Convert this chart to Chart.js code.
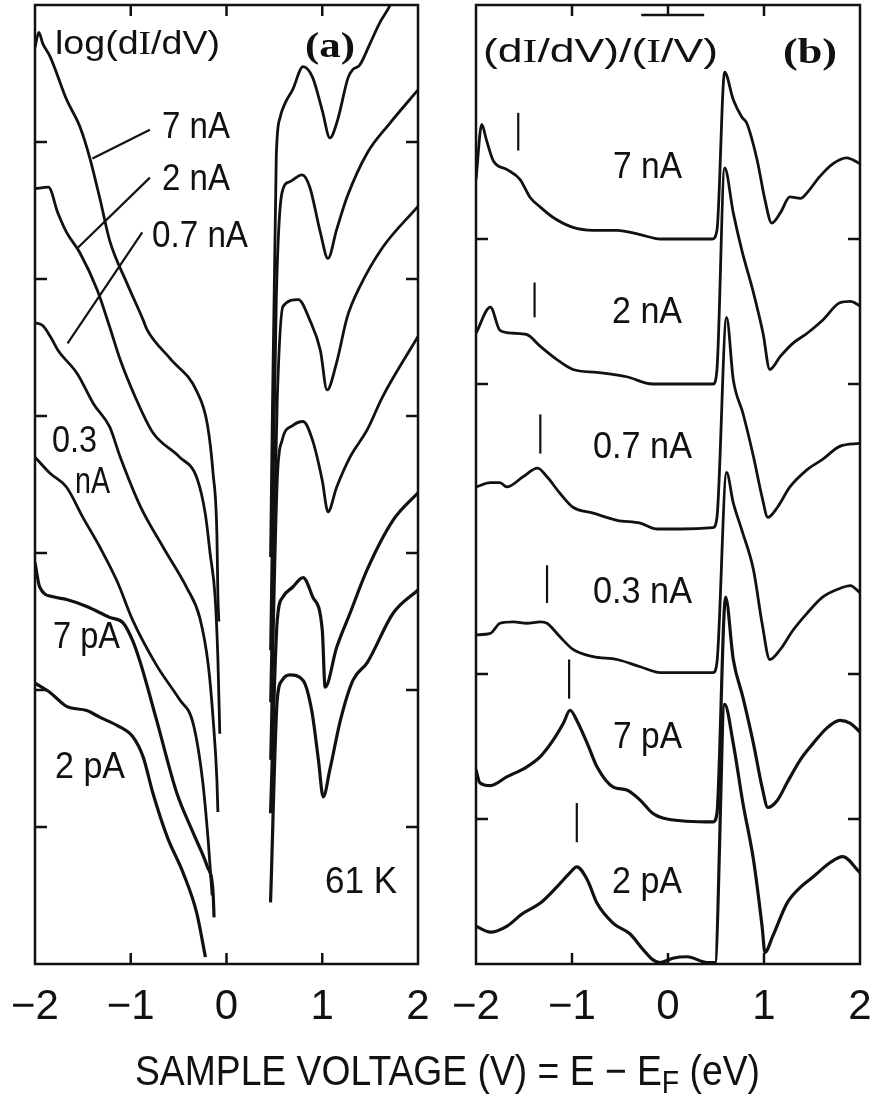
<!DOCTYPE html>
<html>
<head>
<meta charset="utf-8">
<script src="https://cdn.jsdelivr.net/npm/chart.js@4.4.1/dist/chart.umd.min.js"></script>
<style>
  html, body { margin: 0; padding: 0; background: #fff; }
  #wrap { position: relative; width: 874px; height: 1099px; }
  canvas { position: absolute; top: 0; }
  #chartA { left: 0; }
  #chartB { left: 440px; }
</style>
</head>
<body>
<div id="wrap">
  <canvas id="chartA" width="874" height="1099"></canvas>
  <canvas id="chartB" width="434" height="1099"></canvas>
</div>
<script>
// x axis: sample voltage (V)
const voltTicks = [-2, -1, 0, 1, 2];
const innerXTicks = [-1, 0, 1];
const currents = ['7 nA', '2 nA', '0.7 nA', '0.3 nA', '7 pA', '2 pA'];

// panel (a): log(dI/dV), [V, value], each curve split at the gap around 0 V
const a7nA_neg = [[-2.00,6.69],[-1.96,6.80],[-1.92,6.72],[-1.84,6.62],[-1.67,6.31],[-1.53,6.11],[-1.43,5.89],[-1.32,5.58],[-1.22,5.28],[-1.04,4.97],[-0.87,4.70],[-0.83,4.63],[-0.59,4.42],[-0.31,4.18],[-0.20,3.94],[-0.14,3.58],[-0.10,3.13],[-0.09,2.69],[-0.08,2.50]];
const a7nA_pos = [[0.46,2.97],[0.52,5.90],[0.56,6.18],[0.61,6.28],[0.69,6.38],[0.80,6.55],[0.90,6.47],[1.00,6.23],[1.08,6.03],[1.16,6.16],[1.27,6.47],[1.32,6.53],[1.39,6.56],[1.50,6.72],[1.60,6.87],[1.71,7.00],[1.85,7.25]];
const a2nA_neg = [[-2.00,5.66],[-1.86,5.67],[-1.76,5.48],[-1.67,5.34],[-1.53,5.19],[-1.35,4.92],[-1.22,4.65],[-1.11,4.41],[-0.96,4.15],[-0.77,3.88],[-0.49,3.70],[-0.31,3.55],[-0.22,3.28],[-0.17,2.99],[-0.12,2.69],[-0.09,2.23],[-0.07,1.68]];
const a2nA_pos = [[0.46,2.29],[0.52,4.85],[0.58,5.63],[0.66,5.71],[0.79,5.76],[0.87,5.67],[0.98,5.34],[1.06,5.15],[1.15,5.36],[1.26,5.60],[1.47,5.92],[1.71,6.14],[2.00,6.38]];
const a07nA_neg = [[-2.00,4.68],[-1.92,4.66],[-1.84,4.58],[-1.76,4.48],[-1.56,4.31],[-1.39,4.09],[-1.22,3.92],[-1.11,3.70],[-0.90,3.34],[-0.66,3.04],[-0.41,2.74],[-0.28,2.53],[-0.19,2.18],[-0.14,1.79],[-0.10,1.34],[-0.09,1.11]];
const a07nA_pos = [[0.46,1.91],[0.53,4.12],[0.59,4.80],[0.75,4.85],[0.87,4.70],[0.98,4.48],[1.05,4.19],[1.15,4.39],[1.26,4.72],[1.39,4.94],[1.63,5.23],[2.00,5.53]];
const a03nA_neg = [[-2.00,3.70],[-1.84,3.58],[-1.67,3.48],[-1.50,3.26],[-1.32,3.04],[-1.14,2.79],[-0.98,2.51],[-0.73,2.18],[-0.49,1.93],[-0.35,1.76],[-0.25,1.34],[-0.19,0.89],[-0.15,0.50]];
const a03nA_pos = [[0.46,1.49],[0.53,3.53],[0.58,3.82],[0.69,3.93],[0.80,3.96],[0.90,3.82],[1.00,3.53],[1.06,3.30],[1.15,3.48],[1.29,3.70],[1.47,3.90],[1.63,4.14],[2.00,4.58]];
const a7pA_neg = [[-2.00,2.93],[-1.95,2.75],[-1.81,2.68],[-1.67,2.66],[-1.46,2.61],[-1.22,2.53],[-1.08,2.49],[-0.98,2.36],[-0.90,2.20],[-0.73,1.78],[-0.52,1.25],[-0.35,0.96],[-0.20,0.71],[-0.14,0.52],[-0.13,0.34]];
const a7pA_pos = [[0.46,1.10],[0.53,2.51],[0.59,2.68],[0.69,2.75],[0.80,2.82],[0.90,2.68],[1.00,2.44],[1.03,2.02],[1.15,2.31],[1.29,2.56],[1.47,2.88],[1.74,3.24],[2.00,3.44]];
const a2pA_neg = [[-2.00,2.05],[-1.84,1.98],[-1.67,1.88],[-1.46,1.85],[-1.32,1.80],[-1.14,1.74],[-0.98,1.66],[-0.87,1.51],[-0.77,1.25],[-0.62,0.93],[-0.45,0.66],[-0.31,0.37],[-0.22,0.05]];
const a2pA_pos = [[0.46,0.45],[0.53,1.93],[0.58,2.07],[0.66,2.11],[0.80,2.07],[0.89,1.85],[0.96,1.49],[1.01,1.22],[1.08,1.42],[1.19,1.78],[1.32,2.07],[1.47,2.20],[1.74,2.56],[2.00,2.73]];
const aNeg = [a7nA_neg, a2nA_neg, a07nA_neg, a03nA_neg, a7pA_neg, a2pA_neg];
const aPos = [a7nA_pos, a2nA_pos, a07nA_pos, a03nA_pos, a7pA_pos, a2pA_pos];
const aTickY = [1, 2, 3, 4, 5, 6];
// leader lines from labels to curves, [V, value]
const aLeaders = [[[-1.40,5.88],[-0.80,6.09]], [[-1.55,5.23],[-0.80,5.74]], [[-1.66,4.53],[-0.88,5.34]]];

// panel (b): (dI/dV)/(I/V), [V, value above each curve's own zero]
const b7nA = [[-2.00,0.41],[-1.94,0.79],[-1.89,0.68],[-1.82,0.54],[-1.68,0.48],[-1.54,0.41],[-1.44,0.29],[-1.33,0.22],[-1.20,0.15],[-0.99,0.08],[-0.78,0.06],[-0.53,0.06],[-0.29,0.03],[-0.08,0.00],[0.13,0.00],[0.46,0.00],[0.51,0.06],[0.59,1.15],[0.68,0.96],[0.77,0.84],[0.82,0.80],[0.93,0.54],[1.01,0.27],[1.08,0.11],[1.17,0.18],[1.27,0.29],[1.38,0.28],[1.45,0.32],[1.58,0.43],[1.72,0.52],[1.86,0.56],[2.00,0.52]];
const b2nA = [[-2.00,0.35],[-1.85,0.53],[-1.75,0.37],[-1.61,0.35],[-1.47,0.34],[-1.33,0.26],[-1.16,0.17],[-0.99,0.10],[-0.74,0.08],[-0.43,0.05],[-0.16,0.00],[0.13,0.00],[0.47,0.00],[0.51,0.10],[0.59,1.49],[0.68,1.18],[0.77,0.92],[0.89,0.63],[0.99,0.35],[1.06,0.10],[1.17,0.19],[1.30,0.28],[1.45,0.35],[1.61,0.44],[1.79,0.56],[1.90,0.57],[2.00,0.54]];
const b07nA = [[-2.00,0.29],[-1.85,0.32],[-1.75,0.32],[-1.68,0.29],[-1.51,0.36],[-1.36,0.42],[-1.26,0.36],[-1.13,0.25],[-0.99,0.15],[-0.78,0.11],[-0.53,0.06],[-0.29,0.04],[-0.11,0.00],[0.13,0.00],[0.47,0.01],[0.51,0.08],[0.61,1.46],[0.68,1.03],[0.78,0.80],[0.89,0.50],[0.98,0.22],[1.04,0.08],[1.14,0.15],[1.27,0.29],[1.45,0.41],[1.61,0.48],[1.79,0.57],[2.00,0.59]];
const b03nA = [[-2.00,0.27],[-1.85,0.28],[-1.75,0.35],[-1.61,0.36],[-1.47,0.35],[-1.33,0.36],[-1.26,0.35],[-1.13,0.26],[-0.99,0.17],[-0.78,0.12],[-0.53,0.10],[-0.29,0.05],[-0.08,0.01],[0.47,0.01],[0.51,0.08],[0.61,1.39],[0.68,1.18],[0.77,0.99],[0.89,0.72],[0.98,0.35],[1.06,0.10],[1.17,0.17],[1.30,0.30],[1.45,0.42],[1.61,0.53],[1.79,0.59],[1.90,0.61],[2.00,0.56]];
const b7pA = [[-2.00,0.34],[-1.96,0.25],[-1.85,0.23],[-1.68,0.29],[-1.47,0.36],[-1.33,0.43],[-1.20,0.54],[-1.09,0.66],[-1.02,0.75],[-0.95,0.68],[-0.84,0.52],[-0.74,0.36],[-0.57,0.22],[-0.43,0.20],[-0.29,0.13],[-0.16,0.04],[-0.01,0.00],[0.47,-0.02],[0.51,0.04],[0.60,1.53],[0.68,1.10],[0.78,0.84],[0.89,0.52],[0.98,0.22],[1.04,0.08],[1.14,0.13],[1.24,0.25],[1.38,0.41],[1.51,0.52],[1.66,0.63],[1.79,0.68],[1.90,0.66],[2.00,0.60]];
const b2pA = [[-2.00,0.26],[-1.85,0.22],[-1.68,0.26],[-1.51,0.35],[-1.33,0.42],[-1.16,0.53],[-1.02,0.63],[-0.95,0.67],[-0.84,0.58],[-0.74,0.42],[-0.57,0.28],[-0.40,0.21],[-0.26,0.10],[-0.16,0.03],[-0.08,0.01],[0.05,0.04],[0.20,0.05],[0.41,0.01],[0.49,0.01],[0.59,1.79],[0.68,1.52],[0.78,1.11],[0.89,0.72],[0.98,0.26],[1.01,0.08],[1.09,0.19],[1.24,0.42],[1.38,0.53],[1.51,0.60],[1.69,0.70],[1.82,0.74],[2.00,0.63]];
const bCurves = [b7nA, b2nA, b07nA, b03nA, b7pA, b2pA];
const bOffsets = [5, 4, 3, 2, 1, 0];
const bTickY = [1, 2, 4, 5];
// peak markers: voltage and vertical extent above each curve's zero
const bMarkV = [-1.56, -1.39, -1.33, -1.26, -1.03, -0.95];
const bMarkLo = [0.61, 0.46, 0.52, 0.49, 0.83, 0.84];
const bMarkHi = [0.87, 0.70, 0.79, 0.75, 1.10, 1.11];

const INK = '#111';
const SANS = '"Liberation Sans", Arial, sans-serif';
const SERIF = '"Liberation Serif", "Times New Roman", serif';

const toXY = pts => pts.map(p => ({ x: p[0], y: p[1] }));

function curve(pts, width) {
  return {
    data: toXY(pts), borderColor: INK, borderWidth: width || 2.8,
    pointRadius: 0, fill: false, cubicInterpolationMode: 'monotone'
  };
}
function straight(pts) {
  return { data: toXY(pts), borderColor: INK, borderWidth: 2.2, pointRadius: 0, fill: false, tension: 0 };
}

// draw text parts squeezed to a given width, returns x span of each part
function fitText(ctx, parts, x, y, width) {
  let total = 0;
  parts.forEach(p => { ctx.font = p.f; p.w = ctx.measureText(p.t).width; total += p.w; });
  const s = width ? width / total : 1;
  const spans = [];
  ctx.save();
  ctx.translate(x, y);
  ctx.scale(s, 1);
  ctx.textBaseline = 'alphabetic';
  ctx.textAlign = 'left';
  let cx = 0;
  parts.forEach(p => {
    ctx.font = p.f;
    ctx.fillText(p.t, cx, p.dy || 0);
    spans.push([x + cx * s, x + (cx + p.w) * s]);
    cx += p.w;
  });
  ctx.restore();
  return spans;
}

const lab = (t, x, y, w) => ({ parts: [{ t, f: '36px ' + SANS }], x, y, w });

function makeFrame(yTicks, texts) {
  return {
    id: 'frame',
    afterDatasetsDraw(chart) {
      const ctx = chart.ctx, a = chart.chartArea;
      const xs = chart.scales.x, ys = chart.scales.y;
      ctx.save();
      ctx.strokeStyle = INK;
      ctx.lineWidth = 2.5;
      ctx.strokeRect(a.left, a.top, a.right - a.left, a.bottom - a.top);
      ctx.beginPath();
      innerXTicks.forEach(v => {
        const p = xs.getPixelForValue(v);
        ctx.moveTo(p, a.bottom); ctx.lineTo(p, a.bottom - 11);
        ctx.moveTo(p, a.top); ctx.lineTo(p, a.top + 11);
      });
      yTicks.forEach(v => {
        const p = ys.getPixelForValue(v);
        ctx.moveTo(a.left, p); ctx.lineTo(a.left + 12, p);
        ctx.moveTo(a.right, p); ctx.lineTo(a.right - 12, p);
      });
      ctx.stroke();
      ctx.fillStyle = INK;
      texts.forEach(t => {
        const spans = fitText(ctx, t.parts, t.x, t.y, t.w);
        if (t.bar) {
          const sp = spans[t.bar.part];
          ctx.beginPath();
          ctx.moveTo(sp[0] - 4, t.bar.y);
          ctx.lineTo(sp[1] + 1, t.bar.y);
          ctx.stroke();
        }
      });
      ctx.restore();
    }
  };
}

function xAxis(axisHeight) {
  return {
    type: 'linear', min: -2, max: 2, position: 'bottom',
    afterFit: s => { s.height = axisHeight; },
    grid: { display: false, drawTicks: true, tickLength: 18 },
    border: { display: false },
    ticks: {
      stepSize: 1, autoSkip: false, maxRotation: 0, padding: 0, color: INK,
      font: { family: SANS, size: 42 },
      callback: v => v < 0 ? '\u2212' + Math.abs(v) : String(v)
    }
  };
}

// panel (a)
const aDatasets = [];
aNeg.forEach((c, i) => aDatasets.push(curve(c, i >= 4 ? 3.2 : 2.8)));
aPos.forEach((c, i) => aDatasets.push(curve(c, i >= 4 ? 3.2 : 2.8)));
aLeaders.forEach(l => aDatasets.push(straight(l)));

const aTexts = [
  { parts: [
      { t: 'log(d', f: '34px ' + SANS },
      { t: 'I', f: '34px ' + SERIF },
      { t: '/dV)', f: '34px ' + SANS }
    ], x: 55, y: 54, w: 165 },
  { parts: [{ t: '(a)', f: 'bold 36px ' + SERIF }], x: 305, y: 57, w: 50 },
  lab(currents[0], 162, 138, 68),
  lab(currents[1], 162, 190, 68),
  lab(currents[2], 152, 247, 96),
  lab('0.3', 52, 452, 45),
  lab('nA', 75, 493, 35),
  lab(currents[4], 53, 648, 67),
  lab(currents[5], 55, 778, 70),
  lab('61 K', 325, 893, 72),
  { parts: [
      { t: 'SAMPLE VOLTAGE (V) = E \u2212 E', f: '42px ' + SANS },
      { t: 'F', f: '32px ' + SANS, dy: 8 },
      { t: ' (eV)', f: '42px ' + SANS }
    ], x: 135, y: 1085, w: 625 }
];

new Chart(document.getElementById('chartA'), {
  type: 'line',
  data: { datasets: aDatasets },
  options: {
    responsive: false, animation: false, devicePixelRatio: 1,
    layout: { padding: { left: 35, right: 456, top: 5, bottom: 0 } },
    plugins: { legend: { display: false }, tooltip: { enabled: false } },
    scales: {
      x: xAxis(135),
      y: { type: 'linear', min: 0, max: 7, display: false }
    }
  },
  plugins: [makeFrame(aTickY, aTexts)]
});

// panel (b)
const bDatasets = [];
bCurves.forEach((c, i) => {
  bDatasets.push(curve(c.map(p => [p[0], p[1] + bOffsets[i]]), i >= 4 ? 3.2 : 2.8));
  bDatasets.push(straight([[bMarkV[i], bOffsets[i] + bMarkLo[i]], [bMarkV[i], bOffsets[i] + bMarkHi[i]]]));
});

const bTexts = [
  { parts: [
      { t: '(d', f: '34px ' + SANS },
      { t: 'I', f: '34px ' + SERIF },
      { t: '/dV)/(', f: '34px ' + SANS },
      { t: 'I', f: '34px ' + SERIF },
      { t: '/V', f: '34px ' + SANS },
      { t: ')', f: '34px ' + SANS }
    ], x: 43, y: 62, w: 235 },
  { parts: [{ t: '(b)', f: 'bold 36px ' + SERIF }], x: 343, y: 63, w: 54 }
];
// overline above "I/V" spans the 4th and 5th parts
bTexts[0].bar = { part: 3, y: 15, toPart: 4 };
bTexts.push(
  lab(currents[0], 173, 178, 69),
  lab(currents[1], 172, 323, 70),
  lab(currents[2], 153, 458, 99),
  lab(currents[3], 153, 603, 99),
  lab(currents[4], 173, 748, 69),
  lab(currents[5], 172, 893, 70)
);

const frameB = makeFrame(bTickY, bTexts);
// the overline covers two parts, so widen it after the text is drawn
const drawB = frameB.afterDatasetsDraw;
frameB.afterDatasetsDraw = function (chart) {
  const t = bTexts[0];
  const bar = t.bar;
  t.bar = null;
  drawB(chart);
  t.bar = bar;
  const ctx = chart.ctx;
  ctx.save();
  ctx.font = '34px ' + SANS;
  // recompute spans without drawing again
  let total = 0;
  const ws = t.parts.map(p => { ctx.font = p.f; const w = ctx.measureText(p.t).width; total += w; return w; });
  const s = t.w / total;
  let cx = 0;
  const spans = ws.map(w => { const sp = [t.x + cx * s, t.x + (cx + w) * s]; cx += w; return sp; });
  ctx.strokeStyle = INK;
  ctx.lineWidth = 2.5;
  ctx.beginPath();
  ctx.moveTo(spans[bar.part][0] - 5, bar.y);
  ctx.lineTo(spans[bar.toPart][1] + 1, bar.y);
  ctx.stroke();
  ctx.restore();
};

new Chart(document.getElementById('chartB'), {
  type: 'line',
  data: { datasets: bDatasets },
  options: {
    responsive: false, animation: false, devicePixelRatio: 1,
    layout: { padding: { left: 36, right: 14, top: 5, bottom: 0 } },
    plugins: { legend: { display: false }, tooltip: { enabled: false } },
    scales: {
      x: xAxis(135),
      y: { type: 'linear', min: 0, max: 959 / 145, display: false }
    }
  },
  plugins: [frameB]
});
</script>
</body>
</html>
